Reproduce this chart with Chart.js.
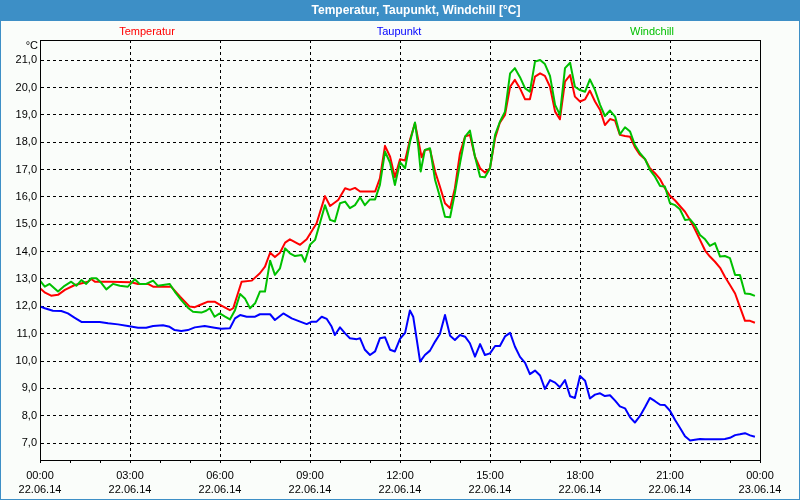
<!DOCTYPE html>
<html>
<head>
<meta charset="utf-8">
<script src="https://cdn.jsdelivr.net/npm/chart.js@4"></script>
<style>
  html, body { margin: 0; padding: 0; background: #fff; }
  #c { display: block; }
</style>
</head>
<body>
<canvas id="c" width="800" height="500"></canvas>
<script>
// data, time in hours since 22.06.14 00:00
const tempTime = [0,0.17,0.37,0.6,0.83,1.16,1.6,1.71,1.83,2.33,3.03,3.27,3.6,3.77,4.27,4.37,4.67,4.99,5.16,5.33,5.6,5.82,6.0,6.33,6.44,6.72,7.06,7.33,7.5,7.67,7.83,8.0,8.17,8.33,8.67,8.89,9.22,9.5,9.67,9.94,10.17,10.33,10.5,10.67,11.17,11.33,11.5,11.67,11.83,12.0,12.17,12.33,12.5,12.61,12.72,12.83,13.0,13.17,13.33,13.5,13.67,13.83,14.0,14.17,14.33,14.5,14.67,14.83,15.0,15.17,15.33,15.5,15.67,15.83,16.0,16.17,16.33,16.5,16.67,16.83,17.0,17.17,17.33,17.5,17.67,17.83,18.0,18.17,18.33,18.5,18.67,18.83,19.0,19.17,19.33,19.5,19.67,19.83,20.0,20.17,20.33,20.5,20.67,20.83,21.0,21.17,21.33,21.5,21.67,21.83,22.0,22.17,22.33,22.5,22.67,22.83,23.0,23.17,23.33,23.5,23.67,23.83];
const temp = [12.66,12.50,12.39,12.42,12.60,12.78,12.90,13.00,12.90,12.90,12.88,12.82,12.82,12.72,12.72,12.72,12.35,11.99,11.97,12.05,12.17,12.17,12.05,11.86,11.93,12.90,12.94,13.21,13.45,13.96,13.80,13.96,14.33,14.45,14.25,14.45,15.04,16.03,15.67,15.89,16.32,16.26,16.33,16.20,16.20,16.68,17.87,17.47,16.72,17.38,17.33,18.08,18.70,18.08,17.45,17.72,17.74,16.93,16.38,15.77,15.59,16.32,17.60,18.21,18.27,17.47,17.05,16.89,17.05,18.15,18.72,19.00,20.03,20.28,19.97,19.57,19.57,20.40,20.52,20.43,20.03,19.12,18.84,20.22,20.46,19.67,19.49,19.57,19.89,19.49,19.18,18.63,18.85,18.79,18.27,18.23,18.20,17.82,17.54,17.38,17.05,16.87,16.65,16.32,16.04,15.87,15.67,15.46,15.16,14.82,14.43,14.04,13.82,13.63,13.41,13.08,12.78,12.47,11.98,11.47,11.47,11.40];

const dewTime = [0,0.16,0.43,0.71,0.93,1.16,1.38,1.99,2.27,2.6,2.93,3.27,3.54,3.77,4.1,4.32,4.49,4.71,4.93,5.16,5.49,5.82,6.04,6.33,6.5,6.67,6.89,7.17,7.33,7.67,7.83,8.11,8.39,8.67,8.89,9.06,9.22,9.39,9.56,9.72,9.83,10.0,10.17,10.33,10.56,10.67,10.83,11.0,11.17,11.33,11.5,11.67,11.83,12.0,12.17,12.33,12.44,12.56,12.67,12.83,13.0,13.17,13.33,13.5,13.67,13.83,14.0,14.17,14.33,14.5,14.67,14.83,15.0,15.17,15.33,15.5,15.67,15.83,16.0,16.17,16.33,16.5,16.67,16.83,17.0,17.17,17.33,17.5,17.67,17.83,18.0,18.17,18.33,18.5,18.67,18.83,19.0,19.17,19.33,19.5,19.67,19.83,20.0,20.17,20.33,20.5,20.67,20.83,21.0,21.17,21.33,21.5,21.67,21.83,22.0,22.17,22.67,22.83,23.0,23.17,23.33,23.5,23.67,23.83];
const dew = [12.00,11.93,11.84,11.83,11.74,11.58,11.43,11.43,11.38,11.34,11.28,11.22,11.22,11.28,11.31,11.25,11.13,11.10,11.13,11.23,11.28,11.22,11.18,11.20,11.56,11.68,11.62,11.62,11.71,11.71,11.50,11.74,11.56,11.44,11.35,11.44,11.44,11.62,11.54,11.26,10.95,11.23,11.01,10.83,10.80,10.83,10.41,10.22,10.35,10.83,10.87,10.41,10.35,10.81,11.03,11.85,11.62,10.77,9.98,10.22,10.38,10.71,10.99,11.68,10.92,10.77,10.95,10.89,10.65,10.16,10.62,10.22,10.28,10.55,10.55,10.90,11.03,10.53,10.15,9.93,9.52,9.65,9.47,8.98,9.30,9.21,9.04,9.30,8.71,8.65,9.45,9.28,8.63,8.77,8.82,8.72,8.75,8.55,8.34,8.27,7.94,7.75,7.99,8.32,8.65,8.53,8.40,8.39,8.18,7.84,7.56,7.25,7.09,7.12,7.15,7.14,7.14,7.15,7.19,7.29,7.32,7.36,7.28,7.23];

const chillTime = [0,0.16,0.32,0.6,0.82,1.04,1.21,1.38,1.54,1.71,1.88,2.04,2.21,2.43,2.66,2.93,3.16,3.32,3.54,3.77,3.93,4.1,4.32,4.49,4.71,4.93,5.1,5.38,5.54,5.66,5.82,5.99,6.17,6.33,6.5,6.67,6.83,7.0,7.17,7.33,7.5,7.67,7.83,8.0,8.17,8.33,8.5,8.72,8.83,9.0,9.17,9.33,9.5,9.67,9.83,10.0,10.17,10.33,10.5,10.67,10.83,11.0,11.17,11.33,11.5,11.67,11.83,12.0,12.17,12.33,12.5,12.61,12.69,12.83,13.0,13.17,13.33,13.5,13.67,13.83,14.0,14.17,14.33,14.5,14.67,14.83,15.0,15.17,15.33,15.5,15.67,15.83,16.0,16.17,16.33,16.5,16.67,16.83,17.0,17.17,17.33,17.5,17.67,17.83,18.0,18.17,18.33,18.5,18.67,18.83,19.0,19.17,19.33,19.5,19.67,19.83,20.0,20.17,20.33,20.5,20.67,20.83,21.0,21.17,21.33,21.5,21.67,21.83,22.0,22.17,22.33,22.5,22.67,22.83,23.0,23.17,23.33,23.5,23.67,23.83];
const chill = [12.94,12.72,12.82,12.54,12.75,12.90,12.75,12.96,12.82,13.03,13.03,12.86,12.62,12.82,12.75,12.72,12.99,12.82,12.82,12.94,12.75,12.78,12.82,12.54,12.23,11.95,11.80,11.77,11.84,11.93,11.62,11.74,11.62,11.52,11.86,12.45,12.29,11.93,12.11,12.54,12.54,13.67,13.15,13.39,14.12,13.94,13.84,13.88,13.63,14.25,14.43,15.04,15.70,15.16,15.10,15.77,15.83,15.59,15.70,15.99,15.70,15.91,15.91,16.44,17.66,17.25,16.44,17.27,17.05,18.00,18.72,17.84,16.93,17.72,17.78,16.62,16.01,15.28,15.26,16.14,17.23,18.21,18.43,17.47,16.74,16.72,17.05,18.27,18.75,19.12,20.52,20.71,20.38,19.97,19.85,20.95,21.01,20.86,20.43,19.37,19.00,20.71,20.91,20.03,19.91,19.85,20.30,19.91,19.37,18.96,19.16,18.94,18.29,18.55,18.39,17.90,17.60,17.38,16.99,16.74,16.40,16.38,15.77,15.70,15.55,15.16,15.18,14.97,14.61,14.45,14.21,14.31,13.82,13.84,13.76,13.15,13.15,12.47,12.45,12.38];

const yTicks = [7,8,9,10,11,12,13,14,15,16,17,18,19,20,21];
const xTickHours = [0,1,2,3,4,5,6,7,8,9,10,11,12,13,14,15,16,17,18,19,20,21,22,23,24];
const timeLabels = ['00:00','03:00','06:00','09:00','12:00','15:00','18:00','21:00','00:00'];
const dateLabels = ['22.06.14','22.06.14','22.06.14','22.06.14','22.06.14','22.06.14','22.06.14','22.06.14','23.06.14'];

const FONT = '"Liberation Sans", Arial, sans-serif';
const BAR = '#3D8FC6';

const pts = (t, v) => t.map((h, i) => ({ x: h, y: v[i] }));

const frame = {
  id: 'frame',
  beforeDraw(chart) {
    const c = chart.ctx;
    c.save();
    c.fillStyle = '#FAFDFA';
    c.fillRect(0, 0, 800, 500);
    c.fillStyle = BAR;
    c.fillRect(0, 0, 800, 21);
    c.strokeStyle = BAR;
    c.lineWidth = 1;
    c.strokeRect(0.5, 0.5, 799, 499);
    c.fillStyle = '#fff';
    c.font = 'bold 12px ' + FONT;
    c.textAlign = 'center';
    c.textBaseline = 'middle';
    c.fillText('Temperatur, Taupunkt, Windchill [°C]', 416, 11);
    c.font = '11px ' + FONT;
    c.fillStyle = '#FF0000'; c.fillText('Temperatur', 147, 32);
    c.fillStyle = '#0000FF'; c.fillText('Taupunkt', 399, 32);
    c.fillStyle = '#00C000'; c.fillText('Windchill', 652, 32);
    c.fillStyle = '#000';
    c.textAlign = 'right';
    c.fillText('°C', 38, 46);
    c.restore();
  },
  afterDraw(chart) {
    const a = chart.chartArea, c = chart.ctx;
    c.save();
    c.strokeStyle = '#000';
    c.lineWidth = 1;
    c.strokeRect(Math.round(a.left) + 0.5, Math.round(a.top) + 0.5, Math.round(a.right - a.left), Math.round(a.bottom - a.top));
    c.restore();
  }
};

new Chart(document.getElementById('c'), {
  type: 'line',
  data: {
    datasets: [
      { label: 'Temperatur', data: pts(tempTime, temp), borderColor: '#FF0000', order: 1 },
      { label: 'Taupunkt', data: pts(dewTime, dew), borderColor: '#0000FF', order: 2 },
      { label: 'Windchill', data: pts(chillTime, chill), borderColor: '#00C000', order: 0 }
    ]
  },
  options: {
    responsive: false,
    animation: false,
    events: [],
    layout: { padding: { top: 40, right: 40, left: 0, bottom: 0 } },
    elements: {
      point: { radius: 0 },
      line: { borderWidth: 2, tension: 0, borderJoinStyle: 'round', fill: false }
    },
    plugins: { legend: { display: false }, tooltip: { enabled: false }, title: { display: false } },
    scales: {
      x: {
        type: 'linear', min: 0, max: 24,
        afterFit(s) { s.height = 40; },
        afterBuildTicks(s) { s.ticks = xTickHours.map(v => ({ value: v })); },
        grid: {
          color: ctx => (ctx.tick && ctx.tick.value % 3 === 0) ? '#000' : 'rgba(0,0,0,0)',
          tickColor: '#000', tickLength: 3, drawTicks: true, lineWidth: 1
        },
        border: { color: '#000', width: 1, dash: [3, 3] },
        ticks: {
          autoSkip: false, maxRotation: 0, padding: 5, color: '#000',
          font: { family: FONT, size: 11, lineHeight: 1.36 },
          callback: v => v % 3 === 0 ? [timeLabels[v / 3], dateLabels[v / 3]] : ''
        }
      },
      y: {
        type: 'linear', min: 6.38, max: 21.74,
        afterFit(s) { s.width = 40; },
        afterBuildTicks(s) { s.ticks = yTicks.map(v => ({ value: v })); },
        grid: { color: '#000', drawTicks: false, lineWidth: 1 },
        border: { color: '#000', width: 1, dash: [3, 3] },
        ticks: {
          padding: 3, color: '#000',
          font: { family: FONT, size: 11 },
          callback: v => v.toFixed(1).replace('.', ',')
        }
      }
    }
  },
  plugins: [frame]
});
</script>
</body>
</html>
